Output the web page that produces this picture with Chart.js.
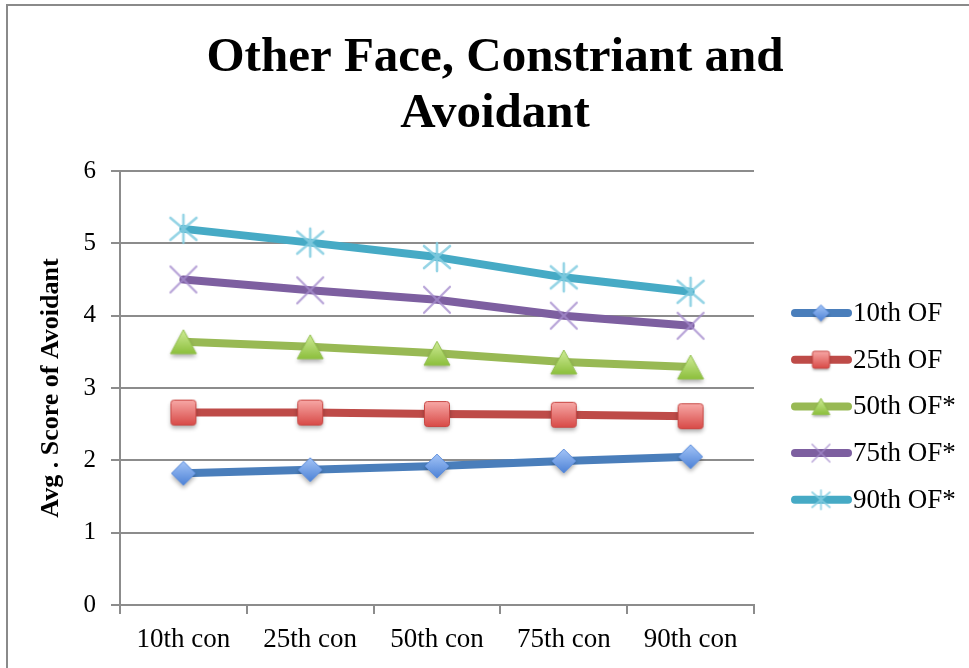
<!DOCTYPE html>
<html>
<head>
<meta charset="utf-8">
<script src="https://cdn.jsdelivr.net/npm/chart.js@4.4.1/dist/chart.umd.min.js"></script>
<style>
  html, body { margin: 0; padding: 0; background: #fff; }
  #wrap { width: 969px; height: 668px; position: relative; }
</style>
</head>
<body>
<div id="wrap"><canvas id="chart" width="969" height="668"></canvas></div>
<script>
// Category axis (constraint percentiles)
const categories = ['10th con', '25th con', '50th con', '75th con', '90th con'];

// Series: other-face percentiles
const seriesNames = ['10th OF', '25th OF', '50th OF*', '75th OF*', '90th OF*'];
const of10 = [1.82, 1.87, 1.92, 1.99, 2.05];
const of25 = [2.66, 2.66, 2.64, 2.63, 2.61];
const of50 = [3.64, 3.57, 3.48, 3.36, 3.29];
const of75 = [4.50, 4.35, 4.22, 4.00, 3.86];
const of90 = [5.20, 5.01, 4.81, 4.53, 4.33];

const yTicks = [0, 1, 2, 3, 4, 5, 6];

const chartTitle = ['Other Face, Constriant and', 'Avoidant'];
const yAxisTitle = 'Avg . Score of Avoidant';

const lineColors = ['#4a7ebb', '#be4b48', '#98b954', '#7d5fa0', '#46aac5'];
const markerKinds = ['diamond', 'square', 'triangle', 'cross', 'asterisk'];

// Builds a small canvas holding one marker glyph (used as a Chart.js pointStyle)
function markerCanvas(kind, s) {
  const R = 15 * s, pad = 8;
  const size = Math.ceil(2 * (R + pad));
  const c = document.createElement('canvas');
  c.width = size; c.height = size;
  const g = c.getContext('2d');
  g.translate(size / 2, size / 2);
  const shadow = () => {
    g.shadowColor = 'rgba(0,0,0,0.32)';
    g.shadowBlur = 4 * s;
    g.shadowOffsetY = 3 * s;
  };
  if (kind === 'diamond') {
    const h = 12 * s;
    const gr = g.createLinearGradient(0, -h, 0, h);
    gr.addColorStop(0, '#a3c4f7'); gr.addColorStop(1, '#4d82d6');
    shadow();
    g.beginPath(); g.moveTo(0, -h); g.lineTo(h, 0); g.lineTo(0, h); g.lineTo(-h, 0); g.closePath();
    g.fillStyle = gr; g.fill();
    g.shadowColor = 'transparent';
    g.strokeStyle = '#5f8fdc'; g.lineWidth = 1; g.stroke();
  } else if (kind === 'square') {
    const h = 12.5 * s, r = 3 * s;
    const gr = g.createLinearGradient(0, -h, 0, h);
    gr.addColorStop(0, '#f7a8a6'); gr.addColorStop(1, '#d84a47');
    shadow();
    g.beginPath();
    g.moveTo(-h + r, -h); g.lineTo(h - r, -h); g.quadraticCurveTo(h, -h, h, -h + r);
    g.lineTo(h, h - r); g.quadraticCurveTo(h, h, h - r, h);
    g.lineTo(-h + r, h); g.quadraticCurveTo(-h, h, -h, h - r);
    g.lineTo(-h, -h + r); g.quadraticCurveTo(-h, -h, -h + r, -h);
    g.closePath();
    g.fillStyle = gr; g.fill();
    g.shadowColor = 'transparent';
    g.strokeStyle = '#c84845'; g.lineWidth = 1; g.stroke();
  } else if (kind === 'triangle') {
    const hw = 13 * s, h = 12 * s;
    const gr = g.createLinearGradient(0, -h, 0, h);
    gr.addColorStop(0, '#d0ec98'); gr.addColorStop(1, '#8cbf3c');
    shadow();
    g.beginPath(); g.moveTo(0, -h); g.lineTo(hw, h); g.lineTo(-hw, h); g.closePath();
    g.fillStyle = gr; g.fill();
    g.shadowColor = 'transparent';
    g.strokeStyle = '#93c04f'; g.lineWidth = 1; g.stroke();
  } else if (kind === 'cross') {
    const h = 13 * s;
    g.strokeStyle = 'rgba(165,140,205,0.8)'; g.lineWidth = 2.2 * s; g.lineCap = 'round';
    g.beginPath(); g.moveTo(-h, -h); g.lineTo(h, h); g.moveTo(h, -h); g.lineTo(-h, h); g.stroke();
  } else if (kind === 'asterisk') {
    const v = 14 * s, dx = 13 * s, dy = 11 * s;
    g.strokeStyle = 'rgba(130,205,225,0.85)'; g.lineWidth = 2.6 * s; g.lineCap = 'round';
    g.beginPath();
    g.moveTo(0, -v); g.lineTo(0, v);
    g.moveTo(-dx, -dy); g.lineTo(dx, dy);
    g.moveTo(dx, -dy); g.lineTo(-dx, dy);
    g.stroke();
  }
  return c;
}

const plotMarkers = markerKinds.map(k => markerCanvas(k, 1));
const keyMarkers = markerKinds.map(k => markerCanvas(k, 0.68));
const seriesValues = [of10, of25, of50, of75, of90];

const datasets = seriesNames.map((name, i) => ({
  label: name,
  data: seriesValues[i],
  borderColor: lineColors[i],
  backgroundColor: lineColors[i],
  borderWidth: 8,
  borderCapStyle: 'round',
  borderJoinStyle: 'round',
  tension: 0,
  pointStyle: plotMarkers[i],
  pointRadius: 12,
  pointHoverRadius: 12,
  clip: false
}));

const serif = '"Liberation Serif", "Times New Roman", serif';

// Outer frame and title
const framePlugin = {
  id: 'frame',
  beforeDraw(chart) {
    const ctx = chart.ctx;
    ctx.save();
    ctx.fillStyle = '#fff';
    ctx.fillRect(0, 0, chart.width, chart.height);
    ctx.strokeStyle = '#8a8a8a';
    ctx.lineWidth = 2;
    ctx.strokeRect(7, 5, chart.width + 20, chart.height + 20);
    ctx.restore();
  },
  afterDraw(chart) {
    const ctx = chart.ctx;
    ctx.save();
    ctx.fillStyle = '#000';
    ctx.textAlign = 'center';
    ctx.textBaseline = 'alphabetic';
    ctx.font = 'bold 49px ' + serif;
    ctx.fillText(chartTitle[0], 495, 71);
    ctx.fillText(chartTitle[1], 495, 127);
    ctx.restore();
  }
};

// Series key on the right: line swatch with marker, then name
const keyPlugin = {
  id: 'seriesKey',
  afterDraw(chart) {
    const ctx = chart.ctx;
    ctx.save();
    chart.data.datasets.forEach((ds, i) => {
      const y = 313 + i * 46.7;
      ctx.strokeStyle = ds.borderColor;
      ctx.lineWidth = 8;
      ctx.lineCap = 'round';
      ctx.beginPath(); ctx.moveTo(795, y); ctx.lineTo(848, y); ctx.stroke();
      const m = keyMarkers[i];
      ctx.drawImage(m, 821 - m.width / 2, y - m.height / 2);
      ctx.fillStyle = '#000';
      ctx.font = '27px ' + serif;
      ctx.textAlign = 'left';
      ctx.textBaseline = 'middle';
      ctx.fillText(ds.label, 853, y + 1);
    });
    ctx.restore();
  }
};

new Chart(document.getElementById('chart'), {
  type: 'line',
  data: { labels: categories, datasets },
  plugins: [framePlugin, keyPlugin],
  options: {
    responsive: false,
    devicePixelRatio: 1,
    animation: false,
    layout: { padding: { top: 171, right: 215, left: 28, bottom: 0 } },
    plugins: { legend: { display: false }, title: { display: false }, tooltip: { enabled: false } },
    scales: {
      x: {
        type: 'category',
        offset: true,
        grid: { offset: true, drawOnChartArea: false, drawTicks: true, tickLength: 9, color: '#8c8c8c', lineWidth: 2 },
        border: { color: '#8c8c8c', width: 2 },
        ticks: { color: '#000', font: { family: serif, size: 27 }, padding: 10, maxRotation: 0 },
        afterFit(s) { s.height = 63; }
      },
      y: {
        min: 0, max: 6,
        afterBuildTicks(s) { s.ticks = yTicks.map(v => ({ value: v })); },
        grid: { color: '#8c8c8c', lineWidth: 2, drawTicks: true, tickLength: 9 },
        border: { color: '#8c8c8c', width: 2 },
        ticks: { color: '#000', font: { family: serif, size: 25 }, padding: 15 },
        title: { display: true, text: yAxisTitle, color: '#000', font: { family: serif, size: 26, weight: 'bold' }, padding: { top: 8, bottom: 0 } },
        afterFit(s) { s.width = 92; }
      }
    }
  }
});
</script>
</body>
</html>
